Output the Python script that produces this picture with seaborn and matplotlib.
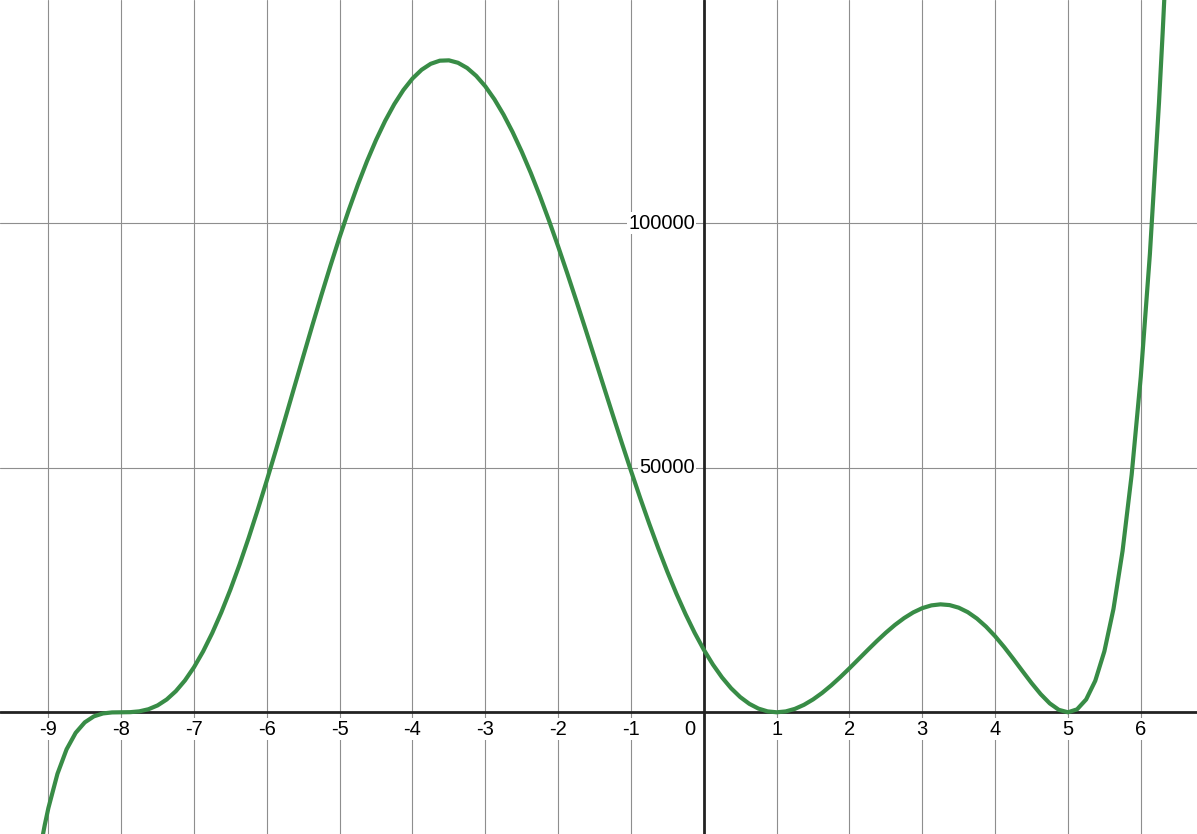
import matplotlib
matplotlib.use("Agg")
import matplotlib.pyplot as plt
import matplotlib.transforms as mtransforms
import seaborn as sns

# ======== DATA ========
x_vals = [-9.1, -9.05, -9.0, -8.875, -8.75, -8.625, -8.5, -8.375, -8.25, -8.125,
          -8.0, -7.875, -7.75, -7.625, -7.5, -7.375, -7.25, -7.125, -7.0, -6.875,
          -6.75, -6.625, -6.5, -6.375, -6.25, -6.125, -6.0, -5.875, -5.75, -5.625,
          -5.5, -5.375, -5.25, -5.125, -5.0, -4.875, -4.75, -4.625, -4.5, -4.375,
          -4.25, -4.125, -4.0, -3.875, -3.75, -3.625, -3.5, -3.375, -3.25, -3.125,
          -3.0, -2.875, -2.75, -2.625, -2.5, -2.375, -2.25, -2.125, -2.0, -1.875,
          -1.75, -1.625, -1.5, -1.375, -1.25, -1.125, -1.0, -0.875, -0.75, -0.625,
          -0.5, -0.375, -0.25, -0.125, 0.0, 0.125, 0.25, 0.375, 0.5, 0.625,
          0.75, 0.875, 1.0, 1.125, 1.25, 1.375, 1.5, 1.625, 1.75, 1.875,
          2.0, 2.125, 2.25, 2.375, 2.5, 2.625, 2.75, 2.875, 3.0, 3.125,
          3.25, 3.375, 3.5, 3.625, 3.75, 3.875, 4.0, 4.125, 4.25, 4.375,
          4.5, 4.625, 4.75, 4.875, 5.0, 5.125, 5.25, 5.375, 5.5, 5.625,
          5.75, 5.875, 6.0, 6.125, 6.25, 6.3, 6.35]
y_vals = [-26990, -23080, -19600, -12580, -7580, -4200, -2060, -830, -235, -28,
          0, 26, 195, 625, 1410, 2620, 4310, 6500, 9216, 12450,
          16200, 20430, 25110, 30200, 35650, 41420, 47430, 53640, 59980, 66380,
          72780, 79130, 85350, 91390, 97200, 102720, 107890, 112690, 117050, 120950,
          124360, 127250, 129600, 131390, 132610, 133250, 133320, 132820, 131760, 130140,
          128000, 125350, 122220, 118640, 114640, 110270, 105550, 100530, 95260, 89770,
          84120, 78360, 72520, 66660, 60820, 55050, 49390, 43890, 38590, 33520,
          28710, 24210, 20050, 16230, 12800, 9760, 7130, 4910, 3110, 1727,
          756, 186, 0, 178, 696, 1523, 2626, 3967, 5507, 7200,
          9000, 10860, 12725, 14550, 16280, 17870, 19260, 20420, 21300, 21860,
          22075, 21920, 21390, 20470, 19170, 17520, 15550, 13330, 10920, 8430,
          5980, 3720, 1822, 500, 0, 600, 2626, 6440, 12460, 21130,
          32990, 48600, 68600, 93680, 124620, 138820, 154140]

x_ticks = list(range(-9, 7))
y_ticks = [50000, 100000]
x_range = (-9.664, 6.772)
y_range = (-24890, 145660)
# =============================================

sns.set_style("white")
plt.rcParams["font.family"] = ["Liberation Sans", "DejaVu Sans"]

fig = plt.figure(figsize=(11.97, 8.34), dpi=100)
ax = fig.add_axes([0, 0, 1, 1])

# grid
for t in x_ticks:
    ax.axvline(t, color="#8e8e8e", lw=0.8, zorder=1)
for t in y_ticks:
    ax.axhline(t, color="#8e8e8e", lw=0.8, zorder=1)

# axes
ax.axhline(0, color="#222222", lw=2, zorder=2)
ax.axvline(0, color="#222222", lw=2, zorder=2)

# curve
sns.lineplot(x=x_vals, y=y_vals, color="#388c46", lw=3, ax=ax, zorder=4,
             solid_joinstyle="round", solid_capstyle="round")

ax.set_xlim(*x_range)
ax.set_ylim(*y_range)
ax.set_xticks([])
ax.set_yticks([])
for s in ax.spines.values():
    s.set_visible(False)

box = dict(facecolor="white", edgecolor="none", pad=1.0)
fs = 14.5

# x labels below the axis
below = mtransforms.offset_copy(ax.transData, fig=fig, x=0, y=-17, units="dots")
left_below = mtransforms.offset_copy(ax.transData, fig=fig, x=-8, y=-17, units="dots")
for t in x_ticks:
    if t == 0:
        ax.text(0, 0, "0", transform=left_below, ha="right", va="center",
                fontsize=fs, color="black", bbox=box, zorder=3)
    else:
        ax.text(t, 0, str(t), transform=below, ha="center", va="center",
                fontsize=fs, color="black", bbox=box, zorder=3)

# y labels left of the axis
left = mtransforms.offset_copy(ax.transData, fig=fig, x=-9, y=0, units="dots")
for t in y_ticks:
    ax.text(0, t, str(t), transform=left, ha="right", va="center",
            fontsize=fs, color="black", bbox=box, zorder=3)

fig.savefig("out.png", dpi=100)
